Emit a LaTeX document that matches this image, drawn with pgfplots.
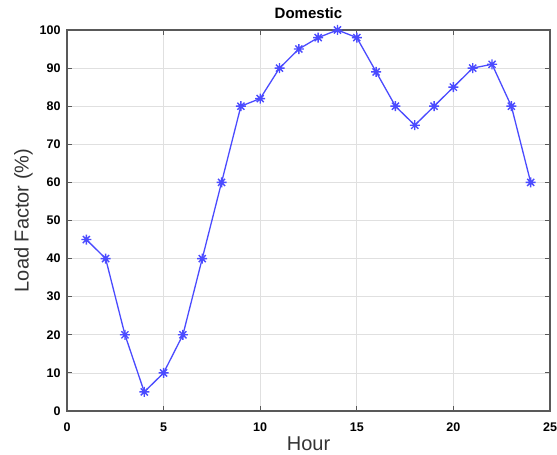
\documentclass[border=0pt]{standalone}
\usepackage{pgfplots}
\pgfplotsset{compat=1.18}
\usetikzlibrary{calc}
\usepackage{fontspec}
\setmainfont{Liberation Sans}
\definecolor{lineblue}{RGB}{75,75,255}
\pgfdeclareplotmark{star8}{%
  \pgfpathmoveto{\pgfqpoint{-\pgfplotmarksize}{0pt}}\pgfpathlineto{\pgfqpoint{\pgfplotmarksize}{0pt}}%
  \pgfpathmoveto{\pgfqpoint{0pt}{-\pgfplotmarksize}}\pgfpathlineto{\pgfqpoint{0pt}{\pgfplotmarksize}}%
  \pgfpathmoveto{\pgfqpoint{-0.707\pgfplotmarksize}{-0.707\pgfplotmarksize}}\pgfpathlineto{\pgfqpoint{0.707\pgfplotmarksize}{0.707\pgfplotmarksize}}%
  \pgfpathmoveto{\pgfqpoint{-0.707\pgfplotmarksize}{0.707\pgfplotmarksize}}\pgfpathlineto{\pgfqpoint{0.707\pgfplotmarksize}{-0.707\pgfplotmarksize}}%
  \pgfusepathqstroke}
\begin{document}
\begin{tikzpicture}
\begin{axis}[
  name=ax,
  width=483pt, height=381pt, scale only axis,
  xmin=0, xmax=25, ymin=0, ymax=100,
  xtick={0,5,...,25}, ytick={0,10,...,100},
  grid=major, major grid style={black!12, line width=0.7pt},
  tick align=inside, axis line style={black!65, line width=1.2pt},
  major tick style={black!65, line width=0.8pt},
  major tick length=5pt,
  /pgf/number format/assume math mode=true,
  ticklabel style={font=\bfseries\fontsize{12.5}{14}\selectfont},
  xticklabel style={yshift=-8pt},
  yticklabel style={xshift=-3pt},
  xlabel={Hour}, ylabel={Load Factor (\%)},
  label style={font=\fontsize{20}{22}\selectfont, black!80, inner sep=0pt},
  xlabel style={at={(axis description cs:0.5,-0.068)}, anchor=north},
  ylabel style={at={(axis description cs:-0.0704,0.5)}, anchor=south},
  title={Domestic},
  title style={font=\bfseries\fontsize{15}{16}\selectfont, at={(axis description cs:0.5,1)}, anchor=base, yshift=5pt, inner sep=0pt},
]
\addplot[color=lineblue, line width=1.3pt, mark=star8, mark size=5pt, mark options={line width=1.4pt}] coordinates {
(1,45) (2,40) (3,20) (4,5) (5,10) (6,20) (7,40) (8,60) (9,80) (10,82) (11,90) (12,95)
(13,98) (14,100) (15,98) (16,89) (17,80) (18,75) (19,80) (20,85) (21,90) (22,91) (23,80) (24,60)
};
\end{axis}
\pgfresetboundingbox
\path ($(ax.south west)+(-67pt,-44pt)$) rectangle ($(ax.north east)+(7pt,30pt)$);
\end{tikzpicture}
\end{document}
